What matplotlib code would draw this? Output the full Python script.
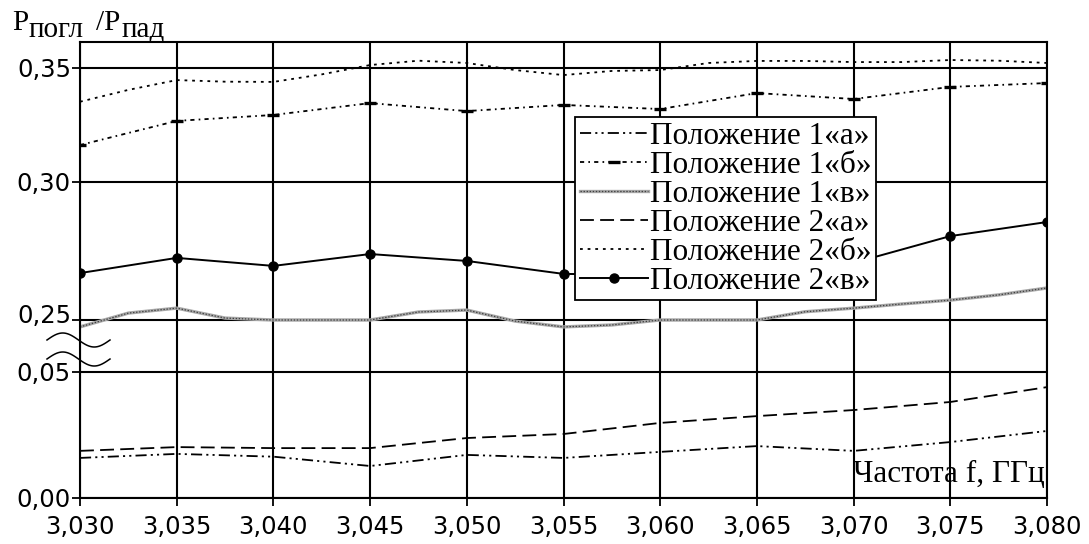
import numpy as np
import matplotlib
matplotlib.use("Agg")
from matplotlib import pyplot as plt
from matplotlib.lines import Line2D
from matplotlib import transforms as mtrans

plt.rcParams["lines.scale_dashes"] = False

# частоты (ГГц)
freq = [3.030, 3.035, 3.040, 3.045, 3.050, 3.055, 3.060, 3.065, 3.070, 3.075, 3.080]
freq_half = [3.0300, 3.0325, 3.0350, 3.0375, 3.0400, 3.0425, 3.0450, 3.0475, 3.0500, 3.0525,
             3.0550, 3.0575, 3.0600, 3.0625, 3.0650, 3.0675, 3.0700, 3.0725, 3.0750, 3.0775, 3.0800]

pos1_a = [0.0159, 0.0175, 0.0164, 0.0127, 0.0171, 0.0159, 0.0183, 0.0206, 0.0187, 0.0222, 0.0266]
pos1_b = [0.3162, 0.3268, 0.3294, 0.3346, 0.3311, 0.3338, 0.3320, 0.3390, 0.3364, 0.3417, 0.3434]
pos1_v = [0.2475, 0.2525, 0.2543, 0.2507, 0.2500, 0.2500, 0.2500, 0.2529, 0.2536, 0.2496, 0.2475,
          0.2482, 0.2500, 0.2500, 0.2500, 0.2530, 0.2543, 0.2558, 0.2572, 0.2591, 0.2616]
pos2_a = [0.0187, 0.0202, 0.0198, 0.0198, 0.0238, 0.0254, 0.0298, 0.0325, 0.0349, 0.0381, 0.0440]
pos2_b = [0.3352, 0.3404, 0.3447, 0.3440, 0.3439, 0.3472, 0.3513, 0.3532, 0.3522, 0.3491, 0.3469,
          0.3487, 0.3491, 0.3522, 0.3531, 0.3531, 0.3526, 0.3526, 0.3535, 0.3532, 0.3522]
pos2_v = [0.2670, 0.2725, 0.2696, 0.2739, 0.2714, 0.2667, 0.2663, 0.2681, 0.2707, 0.2804, 0.2855]

labels = ["Положение 1«а»", "Положение 1«б»", "Положение 1«в»",
          "Положение 2«а»", "Положение 2«б»", "Положение 2«в»"]

x_ticks = freq
x_ticklabels = ["3,030", "3,035", "3,040", "3,045", "3,050", "3,055",
                "3,060", "3,065", "3,070", "3,075", "3,080"]
y_ticks = [0.0, 0.05, 0.25, 0.30, 0.35]
y_ticklabels = ["0,00", "0,05", "0,25", "0,30", "0,35"]

# разрыв оси: значение -> высота (условные пиксели)
brk_val = [-1.0, 0.0, 0.05, 0.24, 0.25, 0.30, 0.35, 0.3614, 1.0]
brk_pix = [-2520.0, 0.0, 126.0, 150.4, 178.0, 316.0, 430.0, 456.0, 1912.0]


def fwd(v):
    return np.interp(v, brk_val, brk_pix)


def inv(d):
    return np.interp(d, brk_pix, brk_val)


W, H = 1089, 544
fig = plt.figure(figsize=(W / 100, H / 100), dpi=100)
ax = fig.add_axes([80 / W, 1 - 498 / H, (1047 - 80) / W, (498 - 42) / H])
ax.set_yscale("function", functions=(fwd, inv))

serif = ["Liberation Serif", "DejaVu Serif"]

l1a, = ax.plot(freq, pos1_a, color="black", lw=1.3, dashes=(8, 3, 1.5, 3, 1.5, 3))
l1b, = ax.plot(freq, pos1_b, color="black", lw=1.3, dashes=(3, 3, 1.2, 3),
               marker="_", ms=8, mew=2.4)
l1v_base, = ax.plot(freq_half, pos1_v, color="#a8a8a8", lw=2.4)
l1v_top, = ax.plot(freq_half, pos1_v, color="#404040", lw=0.9, dashes=(1, 1.2))
l2a, = ax.plot(freq, pos2_a, color="black", lw=1.3, dashes=(10, 4.5))
l2b, = ax.plot(freq_half, pos2_b, color="black", lw=1.3, dashes=(2, 3.5))
l2v, = ax.plot(freq, pos2_v, color="black", lw=1.4, marker="o", ms=6.5)

ax.set_xlim(3.030, 3.080)
ax.set_ylim(0.0, 0.3614)
ax.set_xticks(x_ticks)
ax.set_xticklabels(x_ticklabels)
ax.set_yticks(y_ticks)
ax.set_yticklabels(y_ticklabels)
ax.minorticks_off()
ax.tick_params(axis="both", direction="out", length=5.5, width=1.3, labelsize=17.5, colors="black")
ax.tick_params(axis="x", pad=7)
ax.tick_params(axis="y", pad=1)
ax.grid(True, color="black", lw=1.5)
for s in ax.spines.values():
    s.set_linewidth(1.5)
    s.set_color("black")

# подпись 0,25 чуть выше линии
lbl = ax.get_yticklabels()[2]
lbl.set_transform(lbl.get_transform() + mtrans.ScaledTranslation(0, 6 / 100, fig.dpi_scale_trans))

leg = ax.legend([l1a, l1b, (l1v_base, l1v_top), l2a, l2b, l2v], labels,
                loc="upper left", bbox_to_anchor=(575 / W, 1 - 117 / H),
                bbox_transform=fig.transFigure, borderaxespad=0,
                prop={"family": serif, "size": 22.5}, handlelength=2.2,
                handletextpad=0.05, labelspacing=0.0, borderpad=0.15,
                fancybox=False, framealpha=1, edgecolor="black")
leg.get_frame().set_linewidth(1.3)
leg.set_zorder(10)

ax.text(0.9975, 0.02, "Частота f, ГГц", transform=ax.transAxes, ha="right", va="bottom",
        family=serif, fontsize=22.5, zorder=5)

# подпись оси Y
fig.text(12 / W, 1 - 30 / H, "P", family=serif, fontsize=21, va="baseline")
fig.text(29 / W, 1 - 37 / H, "погл", family=serif, fontsize=21, va="baseline")
fig.text(96 / W, 1 - 30 / H, "/P", family=serif, fontsize=21, va="baseline")
fig.text(122 / W, 1 - 37 / H, "пад", family=serif, fontsize=21, va="baseline")

# значки разрыва оси
t = np.linspace(0, 1, 60)
for cy in (340, 359):
    sx = (47 + 63 * t) / W
    sy = 1 - (cy - 7 * np.sin(2 * np.pi * t)) / H
    fig.add_artist(Line2D(sx, sy, color="black", lw=1.1, transform=fig.transFigure))

fig.savefig("out.png", dpi=100)
